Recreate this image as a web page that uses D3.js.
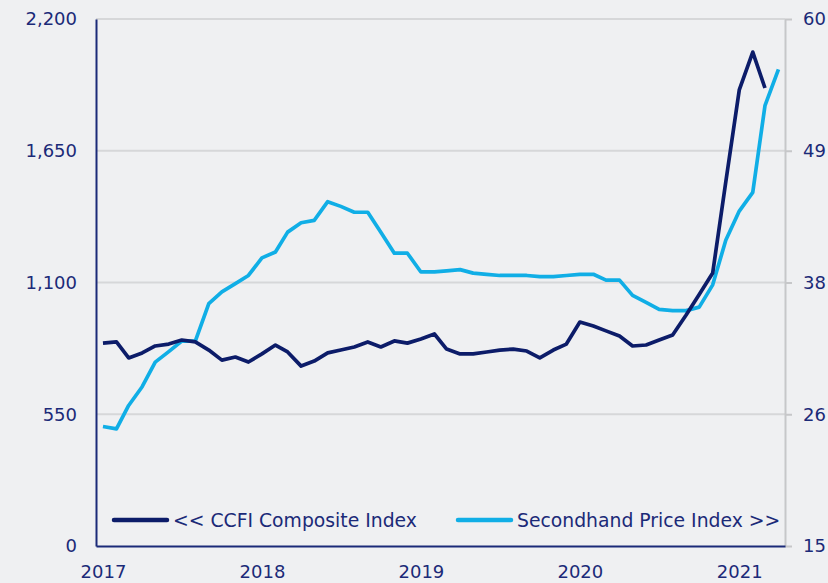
<!DOCTYPE html>
<html>
<head>
<meta charset="utf-8">
<script src="https://cdn.jsdelivr.net/npm/d3@7"></script>
<style>
  body { margin: 0; background: #eff0f2; }
  text { font-family: "DejaVu Sans", Verdana, sans-serif; }
</style>
</head>
<body>
<div id="chart"></div>
<script>
// setup
var width = 828,
    height = 583;
var margin = {top: 19, right: 43, bottom: 37, left: 96};

// monthly, Jan 2017 onward
var ccfi = [847, 852, 785, 806, 835, 843, 860, 852, 818, 776, 789, 768,
            802, 839, 810, 751, 772, 806, 818, 831, 852, 831, 856, 847,
            864, 885, 822, 802, 802, 810, 818, 822, 814, 785, 818, 843,
            935, 918, 898, 877, 835, 839, 860, 881, 964, 1050, 1140, 1520,
            1904, 2062, 1912];
var secondhand = [25.2, 25.0, 27.0, 28.6, 30.7, 31.6, 32.5, 32.5, 35.7, 36.7, 37.4, 38.1,
                  39.6, 40.1, 41.8, 42.6, 42.8, 44.4, 44.0, 43.5, 43.5, 41.8, 40.0, 40.0,
                  38.4, 38.4, 38.5, 38.6, 38.3, 38.2, 38.1, 38.1, 38.1, 38.0, 38.0, 38.1,
                  38.2, 38.2, 37.7, 37.7, 36.4, 35.8, 35.2, 35.1, 35.1, 35.4, 37.3, 41.1,
                  43.6, 45.2, 52.6, 55.7];
var leftTicks = [0, 550, 1100, 1650, 2200];
var rightTicks = [15, 26.25, 37.5, 48.75, 60];
var years = [2017, 2018, 2019, 2020, 2021];
var seriesNames = ["<< CCFI Composite Index", "Secondhand Price Index >>"];

var navy = "#1b2a78",
    darkLine = "#0c1c69",
    lightLine = "#10aee6";

var month = function (i) { return new Date(2017, i, 1); };

var xScale = d3.scaleTime()
    .domain([new Date(2016, 11, 16), new Date(2021, 3, 16)])
    .range([margin.left, width - margin.right]);

var yLeft = d3.scaleLinear()
    .domain([0, 2200])
    .range([height - margin.bottom, margin.top]);

var yRight = d3.scaleLinear()
    .domain([15, 60])
    .range([height - margin.bottom, margin.top]);

var svg = d3.select("#chart").append("svg")
    .attr("width", width)
    .attr("height", height);

svg.append("rect")
    .attr("width", width)
    .attr("height", height)
    .attr("fill", "#eff0f2");

// gridlines
svg.append("g")
    .selectAll("line")
    .data(leftTicks.slice(1))
    .enter().append("line")
    .attr("x1", margin.left)
    .attr("x2", width - margin.right)
    .attr("y1", function (d) { return yLeft(d); })
    .attr("y2", function (d) { return yLeft(d); })
    .attr("stroke", "#d6d7d9")
    .attr("stroke-width", 2);

// right axis (grey)
var rightAxis = svg.append("g")
    .attr("transform", "translate(" + (width - margin.right) + ",0)")
    .call(d3.axisRight(yRight)
        .tickValues(rightTicks)
        .tickFormat(d3.format(".0f"))
        .tickSize(7)
        .tickPadding(11)
        .tickSizeOuter(0));
rightAxis.select(".domain").attr("stroke", "#c6c7c9").attr("stroke-width", 2);
rightAxis.selectAll(".tick line").attr("stroke", "#c6c7c9").attr("stroke-width", 2);
rightAxis.selectAll(".tick text")
    .attr("fill", navy)
    .style("font-size", "18px");

// left axis
var leftAxis = svg.append("g")
    .attr("transform", "translate(" + margin.left + ",0)")
    .call(d3.axisLeft(yLeft)
        .tickValues(leftTicks)
        .tickFormat(d3.format(","))
        .tickSize(0)
        .tickPadding(19));
leftAxis.select(".domain").attr("stroke", navy).attr("stroke-width", 2);
leftAxis.selectAll(".tick text")
    .attr("fill", navy)
    .style("font-size", "18px");

// bottom axis
var xAxis = svg.append("g")
    .attr("transform", "translate(0," + (height - margin.bottom) + ")")
    .call(d3.axisBottom(xScale)
        .tickValues(years.map(function (y) { return new Date(y, 0, 1); }))
        .tickFormat(d3.timeFormat("%Y"))
        .tickSize(0)
        .tickPadding(19));
xAxis.select(".domain").attr("stroke", navy).attr("stroke-width", 2);
xAxis.selectAll(".tick text")
    .attr("fill", navy)
    .style("font-size", "18px");

// lines
var lineLeft = d3.line()
    .x(function (d, i) { return xScale(month(i)); })
    .y(function (d) { return yLeft(d); });

var lineRight = d3.line()
    .x(function (d, i) { return xScale(month(i)); })
    .y(function (d) { return yRight(d); });

svg.append("path")
    .datum(secondhand)
    .attr("d", lineRight)
    .attr("fill", "none")
    .attr("stroke", lightLine)
    .attr("stroke-width", 3.7)
    .attr("stroke-linejoin", "round");

svg.append("path")
    .datum(ccfi)
    .attr("d", lineLeft)
    .attr("fill", "none")
    .attr("stroke", darkLine)
    .attr("stroke-width", 3.7)
    .attr("stroke-linejoin", "round");

// legend
var legend = svg.append("g")
    .selectAll("g")
    .data(seriesNames)
    .enter().append("g")
    .attr("transform", function (d, i) {
        return "translate(" + (i === 0 ? 114 : 458) + ",520)";
    });

legend.append("line")
    .attr("x1", 0)
    .attr("x2", 53)
    .attr("stroke", function (d, i) { return i === 0 ? darkLine : lightLine; })
    .attr("stroke-width", 4.5)
    .attr("stroke-linecap", "round");

legend.append("text")
    .attr("x", 59)
    .attr("dy", "0.35em")
    .attr("fill", navy)
    .style("font-size", "18.8px")
    .text(function (d) { return d; });
</script>
</body>
</html>
